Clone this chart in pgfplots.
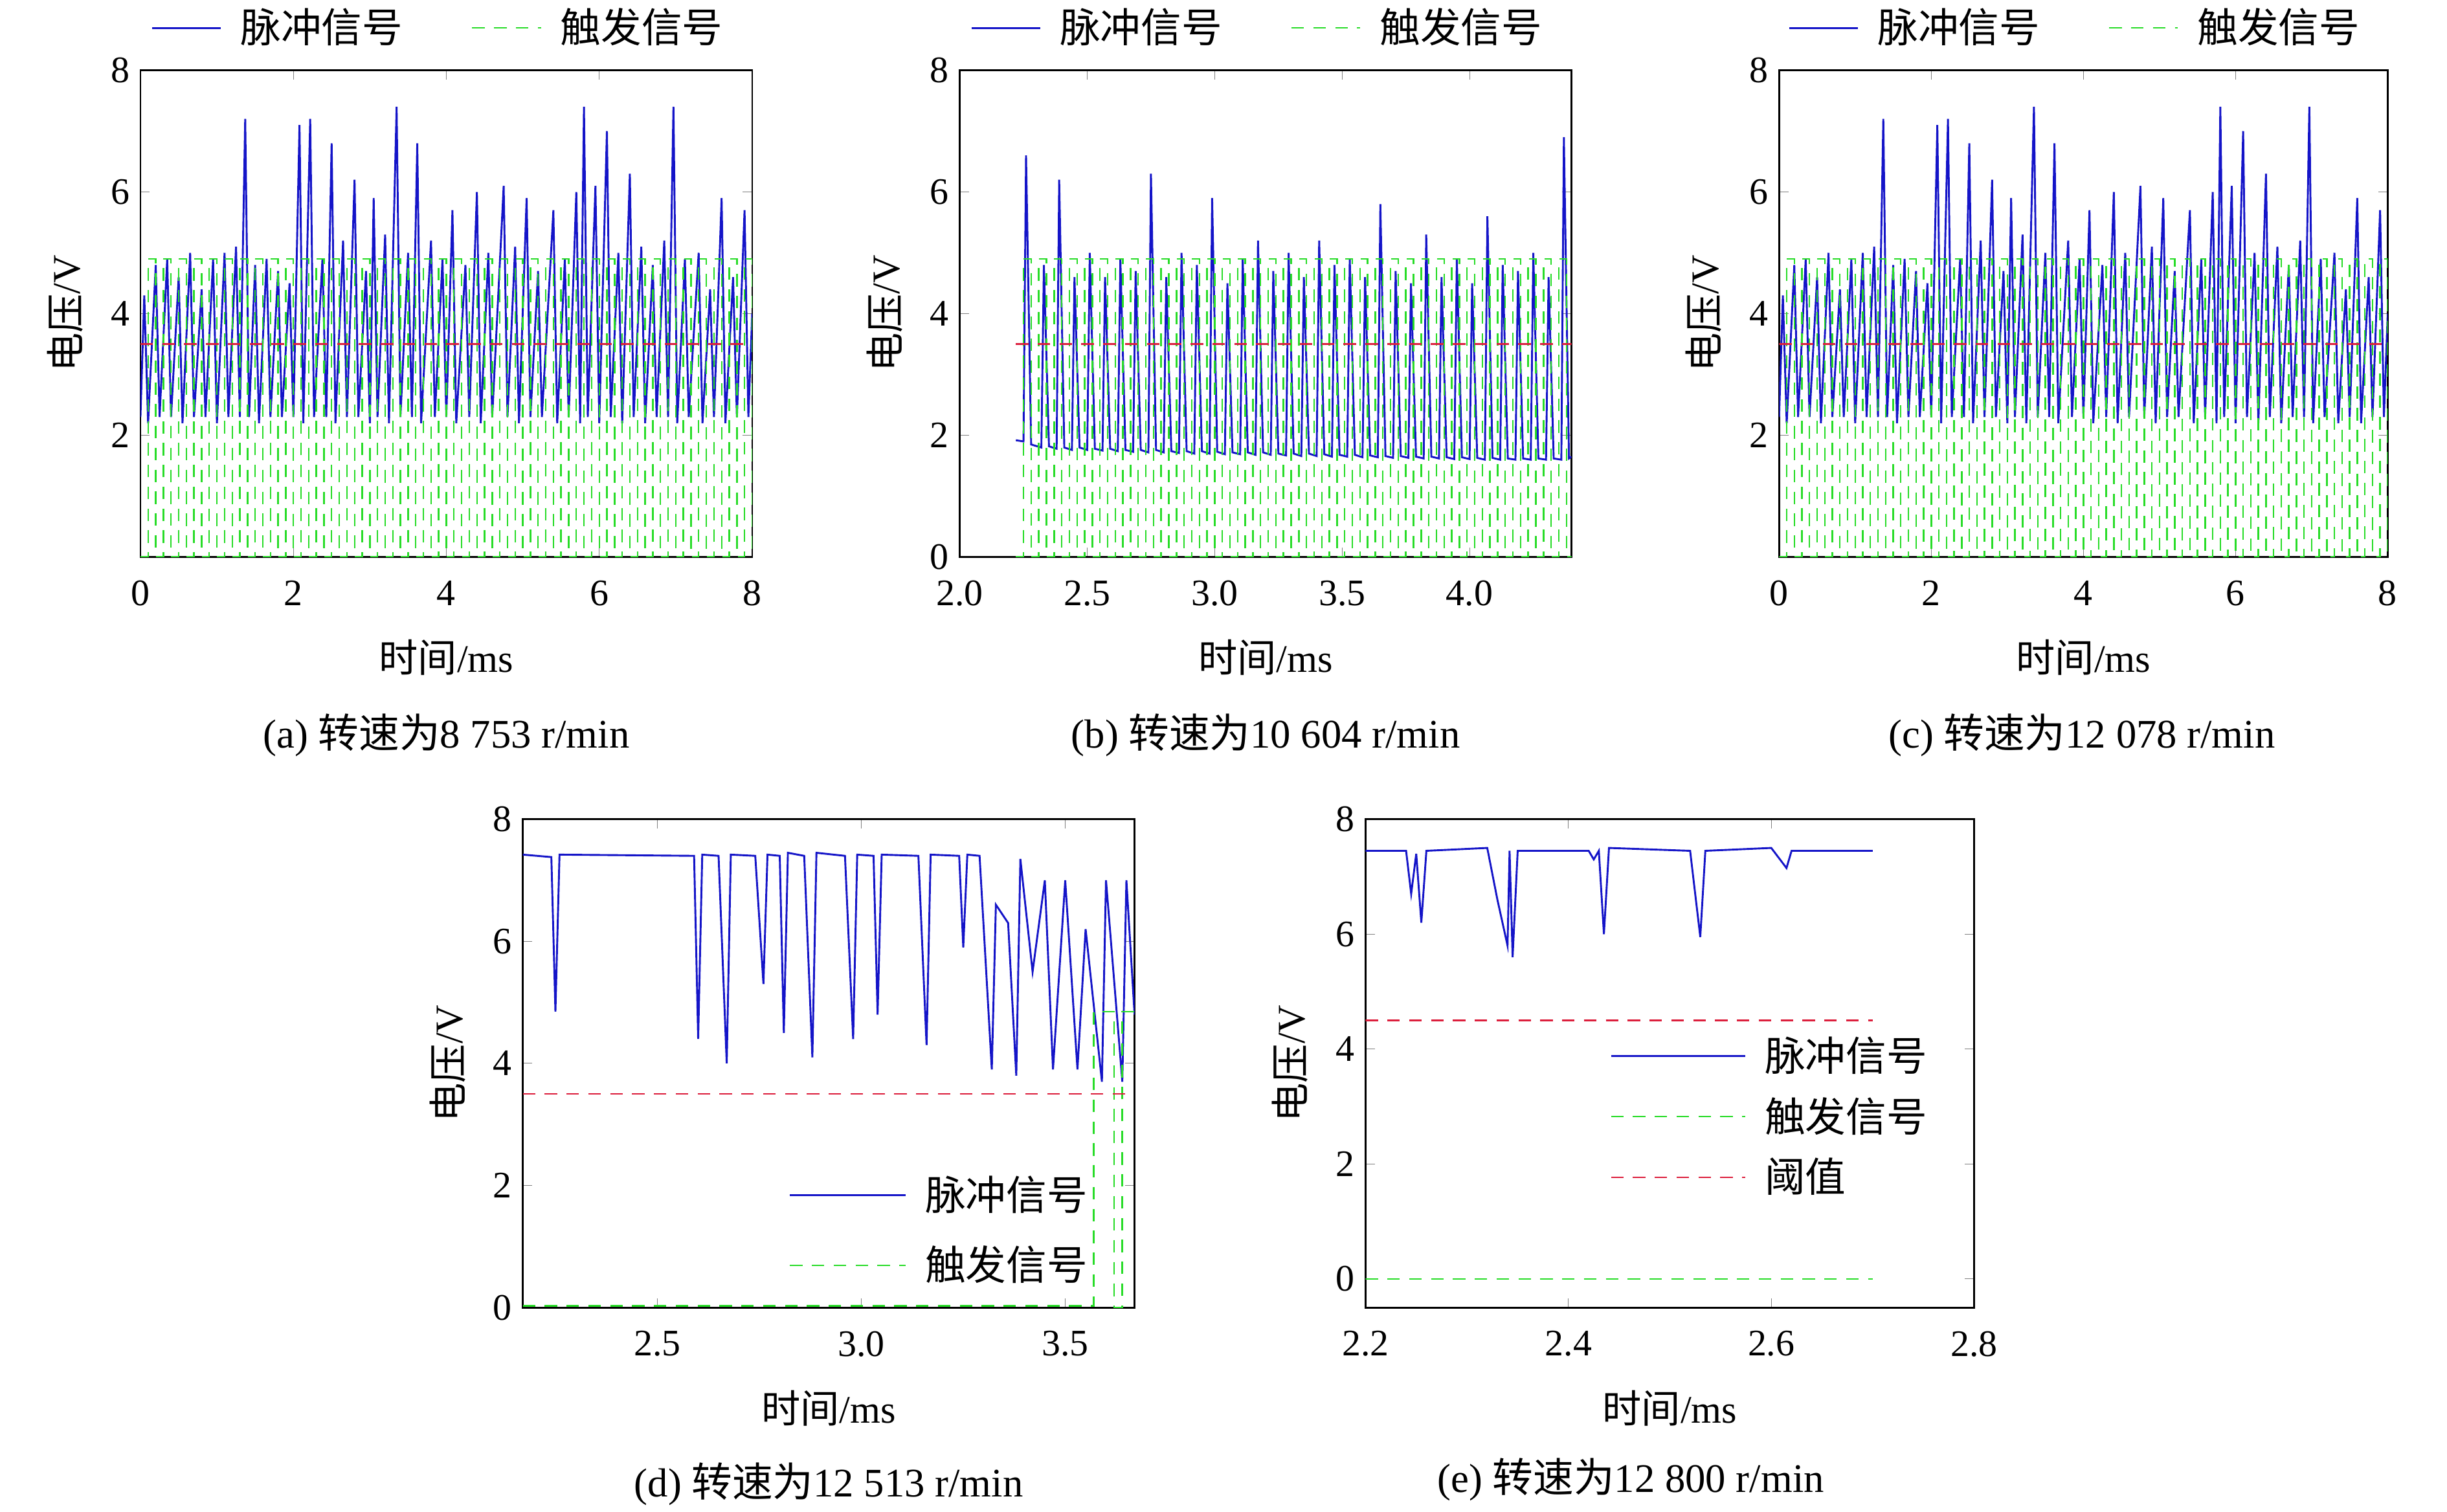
\documentclass[border=0pt]{standalone}
\usepackage{fontspec}
\setmainfont{Liberation Serif}
\newfontfamily\cjk{Noto Sans CJK SC}
\newfontfamily\tnum{Liberation Serif}
\usepackage{pgfplots}
\pgfplotsset{compat=1.18}
\definecolor{pblue}{RGB}{20,20,200}
\definecolor{tgreen}{RGB}{40,220,40}
\definecolor{thred}{RGB}{220,30,60}
\pgfplotsset{
  base/.style={scale only axis, font=\rmfamily\fontsize{12.5}{14}\selectfont,
    tick align=inside,
    ticklabel style={font=\tnum\fontsize{12}{14}\selectfont},
    xticklabel style={yshift=-4pt},
    major tick length=3pt, axis line style={black,line width=0.6pt},
    ylabel={{\cjk 电压}/V}, xlabel={{\cjk 时间}/ms},
    xlabel style={yshift=-4pt}, ylabel style={yshift=2pt},
    legend cell align=left,
    legend style={nodes={inner xsep=6pt}},
    legend image code/.code={\draw[#1] (0pt,0pt) -- (22pt,0pt);},
  },
  toplegend/.style={legend style={draw=none, fill=none, at={(0.5,1.02)}, anchor=south,
    legend columns=2, /tikz/every even column/.append style={column sep=16pt}, font=\fontsize{13}{15}\selectfont\cjk}},
  pulse/.style={pblue, line width=0.6pt},
  trig/.style={tgreen, line width=0.5pt, dash pattern=on 4pt off 3pt},
  thr/.style={thred, line width=0.5pt, dash pattern=on 4pt off 3pt},
}
\pgfplotstableread{
t v
0 2.3
0.05 4.3
0.1 2.2
0.2 4.8
0.25 2.3
0.35 4.9
0.4 2.3
0.5 4.6
0.55 2.2
0.65 5.0
0.7 2.3
0.8 4.4
0.85 2.3
0.95 4.9
1.0 2.2
1.1 5.0
1.15 2.3
1.25 5.1
1.3 2.3
1.37 7.2
1.42 2.3
1.5 4.8
1.55 2.2
1.65 4.9
1.7 2.3
1.8 4.7
1.85 2.3
1.95 4.5
2.0 2.3
2.08 7.1
2.13 2.2
2.22 7.2
2.27 2.3
2.38 4.9
2.43 2.3
2.5 6.8
2.55 2.2
2.65 5.2
2.7 2.3
2.8 6.2
2.85 2.3
2.95 4.7
3.0 2.2
3.05 5.9
3.1 2.3
3.2 5.3
3.25 2.2
3.35 7.4
3.4 2.3
3.5 5.0
3.55 2.3
3.62 6.8
3.67 2.2
3.8 5.2
3.85 2.3
3.95 4.9
4.0 2.3
4.08 5.7
4.13 2.2
4.25 4.8
4.3 2.3
4.4 6.0
4.45 2.2
4.55 5.0
4.6 2.3
4.75 6.1
4.8 2.3
4.9 5.1
4.95 2.2
5.05 5.9
5.1 2.3
5.2 4.7
5.25 2.3
5.4 5.7
5.45 2.2
5.55 4.9
5.6 2.3
5.7 6.0
5.75 2.2
5.8 7.4
5.85 2.3
5.95 6.1
6.0 2.2
6.1 7.0
6.15 2.3
6.25 5.0
6.3 2.2
6.4 6.3
6.45 2.3
6.55 5.1
6.6 2.2
6.7 4.8
6.75 2.3
6.85 5.2
6.9 2.3
6.97 7.4
7.02 2.2
7.12 4.9
7.17 2.3
7.3 5.0
7.35 2.2
7.45 4.4
7.5 2.3
7.6 5.9
7.65 2.2
7.75 4.6
7.8 2.3
7.9 5.7
7.95 2.3
8.0 4.0
}\pulseA
\pgfplotstableread{
t v
0 0
0.1 4.9
0.2 0
0.3 4.9
0.4 0
0.5 4.9
0.6 0
0.7 4.9
0.8 0
0.9 4.9
1.0 0
1.1 4.9
1.2 0
1.3 4.9
1.4 0
1.5 4.9
1.6 0
1.7 4.9
1.8 0
1.9 4.9
2.0 0
2.1 4.9
2.2 0
2.3 4.9
2.4 0
2.5 4.9
2.6 0
2.7 4.9
2.8 0
2.9 4.9
3.0 0
3.1 4.9
3.2 0
3.3 4.9
3.4 0
3.5 4.9
3.6 0
3.7 4.9
3.8 0
3.9 4.9
4.0 0
4.1 4.9
4.2 0
4.3 4.9
4.4 0
4.5 4.9
4.6 0
4.7 4.9
4.8 0
4.9 4.9
5.0 0
5.1 4.9
5.2 0
5.3 4.9
5.4 0
5.5 4.9
5.6 0
5.7 4.9
5.8 0
5.9 4.9
6.0 0
6.1 4.9
6.2 0
6.3 4.9
6.4 0
6.5 4.9
6.6 0
6.7 4.9
6.8 0
6.9 4.9
7.0 0
7.1 4.9
7.2 0
7.3 4.9
7.4 0
7.5 4.9
7.6 0
7.7 4.9
7.8 0
7.9 4.9
8.0 0
}\trigA
\pgfplotstableread{
t v
2.22 1.92
2.25 1.90
2.26 6.6
2.28 1.85
2.32 1.80
2.33 4.8
2.35 1.82
2.38 1.78
2.39 6.2
2.41 1.80
2.44 1.76
2.45 4.6
2.47 1.80
2.50 1.76
2.51 5.0
2.53 1.78
2.56 1.75
2.57 4.6
2.59 1.78
2.62 1.74
2.63 4.9
2.65 1.76
2.68 1.73
2.69 4.7
2.71 1.76
2.74 1.72
2.75 6.3
2.77 1.76
2.80 1.72
2.81 4.6
2.83 1.74
2.86 1.71
2.87 5.0
2.89 1.74
2.92 1.70
2.93 4.8
2.95 1.74
2.98 1.70
2.99 5.9
3.01 1.73
3.04 1.69
3.05 4.5
3.07 1.72
3.10 1.69
3.11 4.9
3.13 1.72
3.16 1.68
3.17 5.2
3.19 1.72
3.22 1.68
3.23 4.7
3.25 1.70
3.28 1.67
3.29 5.0
3.31 1.70
3.34 1.66
3.35 4.6
3.37 1.70
3.40 1.66
3.41 5.2
3.43 1.69
3.46 1.65
3.47 4.8
3.49 1.68
3.52 1.65
3.53 4.9
3.55 1.68
3.58 1.64
3.59 4.6
3.61 1.67
3.64 1.64
3.65 5.8
3.67 1.66
3.70 1.63
3.71 4.7
3.73 1.66
3.76 1.63
3.77 4.5
3.79 1.65
3.82 1.62
3.83 5.3
3.85 1.65
3.88 1.62
3.89 4.6
3.91 1.64
3.94 1.61
3.95 4.9
3.97 1.64
4.00 1.61
4.01 4.5
4.03 1.63
4.06 1.60
4.07 5.6
4.09 1.63
4.12 1.60
4.13 4.8
4.15 1.62
4.18 1.60
4.19 4.7
4.21 1.62
4.24 1.60
4.25 5.0
4.27 1.62
4.30 1.60
4.31 4.6
4.33 1.62
4.36 1.60
4.37 6.9
4.39 1.62
4.40 1.65
}\pulseB
\pgfplotstableread{
t v
2.22 0
2.25 4.9
2.28 0
2.31 4.9
2.34 0
2.37 4.9
2.40 0
2.43 4.9
2.46 0
2.49 4.9
2.52 0
2.55 4.9
2.58 0
2.61 4.9
2.64 0
2.67 4.9
2.70 0
2.73 4.9
2.76 0
2.79 4.9
2.82 0
2.85 4.9
2.88 0
2.91 4.9
2.94 0
2.97 4.9
3.00 0
3.03 4.9
3.06 0
3.09 4.9
3.12 0
3.15 4.9
3.18 0
3.21 4.9
3.24 0
3.27 4.9
3.30 0
3.33 4.9
3.36 0
3.39 4.9
3.42 0
3.45 4.9
3.48 0
3.51 4.9
3.54 0
3.57 4.9
3.60 0
3.63 4.9
3.66 0
3.69 4.9
3.72 0
3.75 4.9
3.78 0
3.81 4.9
3.84 0
3.87 4.9
3.90 0
3.93 4.9
3.96 0
3.99 4.9
4.02 0
4.05 4.9
4.08 0
4.11 4.9
4.14 0
4.17 4.9
4.20 0
4.23 4.9
4.26 0
4.29 4.9
4.32 0
4.35 4.9
4.38 0
4.40 0
}\trigB
\begin{document}
\begin{tikzpicture}
\useasboundingbox (0,0) rectangle (784pt,-484.5pt);
% (a)
\begin{axis}[base, toplegend, at={(45pt,-178.5pt)}, anchor=south west, width=196pt, height=156pt,
  xmin=0, xmax=8, ymin=0, ymax=8, xtick={0,2,4,6,8}, ytick={2,4,6,8},
  xticklabels={0,2,4,6,8}, yticklabels={2,4,6,8}]
\addplot[pulse] table {\pulseA};
\addplot[trig, const plot] table {\trigA};
\addplot[thr, forget plot] coordinates {(0,3.5)(8,3.5)};
\legend{脉冲信号,触发信号}
\end{axis}
% (b)
\begin{axis}[base, toplegend, at={(307.5pt,-178.5pt)}, anchor=south west, width=196pt, height=156pt,
  xmin=2.0, xmax=4.4, ymin=0, ymax=8, xtick={2.0,2.5,3.0,3.5,4.0}, ytick={0,2,4,6,8},
  xticklabels={2.0,2.5,3.0,3.5,4.0}, yticklabels={0,2,4,6,8}]
\addplot[pulse] table {\pulseB};
\addplot[trig, const plot] table {\trigB};
\addplot[thr, forget plot] coordinates {(2.22,3.5)(4.4,3.5)};
\legend{脉冲信号,触发信号}
\end{axis}
% (c)
\begin{axis}[base, toplegend, at={(570pt,-178.5pt)}, anchor=south west, width=195pt, height=156pt,
  xmin=0, xmax=8, ymin=0, ymax=8, xtick={0,2,4,6,8}, ytick={2,4,6,8},
  xticklabels={0,2,4,6,8}, yticklabels={2,4,6,8}]
\addplot[pulse] table {\pulseA};
\addplot[trig, const plot] table {\trigA};
\addplot[thr, forget plot] coordinates {(0,3.5)(8,3.5)};
\legend{脉冲信号,触发信号}
\end{axis}
% (d)
\begin{axis}[base, at={(167.5pt,-419pt)}, anchor=south west, width=196pt, height=156.5pt,
  xmin=2.17, xmax=3.67, ymin=0, ymax=8, xtick={2.5,3.0,3.5}, ytick={0,2,4,6,8},
  xticklabels={2.5,3.0,3.5}, yticklabels={0,2,4,6,8},
  legend image code/.code={\draw[#1] (0pt,0pt) -- (37pt,0pt);},
  legend style={draw=none, fill=none, at={(0.97,0.02)}, anchor=south east, font=\fontsize{13}{15}\selectfont\cjk, row sep=6pt}]
\addplot[pulse] coordinates {(2.17,7.42)(2.24,7.38)(2.25,4.85)(2.26,7.42)(2.59,7.4)(2.6,4.4)(2.61,7.42)(2.65,7.4)(2.67,4.0)(2.68,7.42)(2.74,7.4)(2.76,5.3)(2.77,7.42)(2.8,7.4)(2.81,4.5)(2.82,7.45)(2.86,7.4)(2.88,4.1)(2.89,7.45)(2.96,7.4)(2.98,4.4)(2.99,7.42)(3.03,7.4)(3.04,4.8)(3.05,7.42)(3.14,7.4)(3.16,4.3)(3.17,7.42)(3.24,7.4)(3.25,5.9)(3.26,7.42)(3.29,7.4)(3.32,3.9)(3.33,6.6)(3.36,6.3)(3.38,3.8)(3.39,7.35)(3.42,5.5)(3.45,7.0)(3.47,3.9)(3.5,7.0)(3.53,3.9)(3.55,6.2)(3.59,3.7)(3.6,7.0)(3.64,3.7)(3.65,7.0)(3.67,4.8)};
\addplot[trig, const plot] coordinates {(2.17,0.03)(3.57,4.85)(3.62,0)(3.64,4.85)(3.67,4.85)};
\addplot[thr, forget plot] coordinates {(2.17,3.5)(3.67,3.5)};
\legend{脉冲信号,触发信号}
\end{axis}
% (e)
\begin{axis}[base, at={(437.5pt,-419pt)}, anchor=south west, width=195pt, height=156.5pt,
  xmin=2.2, xmax=2.8, ymin=-0.5, ymax=8, xtick={2.2,2.4,2.6,2.8}, ytick={0,2,4,6,8},
  xticklabels={2.2,2.4,2.6,2.8}, yticklabels={0,2,4,6,8},
  legend image code/.code={\draw[#1] (0pt,0pt) -- (43pt,0pt);},
  legend style={draw=none, fill=none, at={(0.97,0.2)}, anchor=south east, font=\fontsize{13}{15}\selectfont\cjk, row sep=3pt}]
\addplot[pulse] coordinates {(2.2,7.45)(2.24,7.45)(2.245,6.7)(2.25,7.4)(2.255,6.2)(2.26,7.45)(2.32,7.5)(2.33,6.6)(2.34,5.8)(2.342,7.45)(2.345,5.6)(2.35,7.45)(2.42,7.45)(2.425,7.3)(2.43,7.45)(2.435,6.0)(2.44,7.5)(2.52,7.45)(2.53,5.95)(2.535,7.45)(2.6,7.5)(2.615,7.15)(2.62,7.45)(2.7,7.45)};
\addplot[trig] coordinates {(2.2,0)(2.7,0)};
\addplot[thr] coordinates {(2.2,4.5)(2.7,4.5)};
\legend{脉冲信号,触发信号,阈值}
\end{axis}
\begin{scope}[font=\rmfamily\fontsize{13}{15}\selectfont]
\node at (143pt,-235.5pt) {(a) {\cjk 转速为}8 753 r/min};
\node at (405.5pt,-235.5pt) {(b) {\cjk 转速为}10 604 r/min};
\node at (667pt,-235.5pt) {(c) {\cjk 转速为}12 078 r/min};
\node at (265.5pt,-475.5pt) {(d) {\cjk 转速为}12 513 r/min};
\node at (522.5pt,-474pt) {(e) {\cjk 转速为}12 800 r/min};
\end{scope}
\end{tikzpicture}
\end{document}
